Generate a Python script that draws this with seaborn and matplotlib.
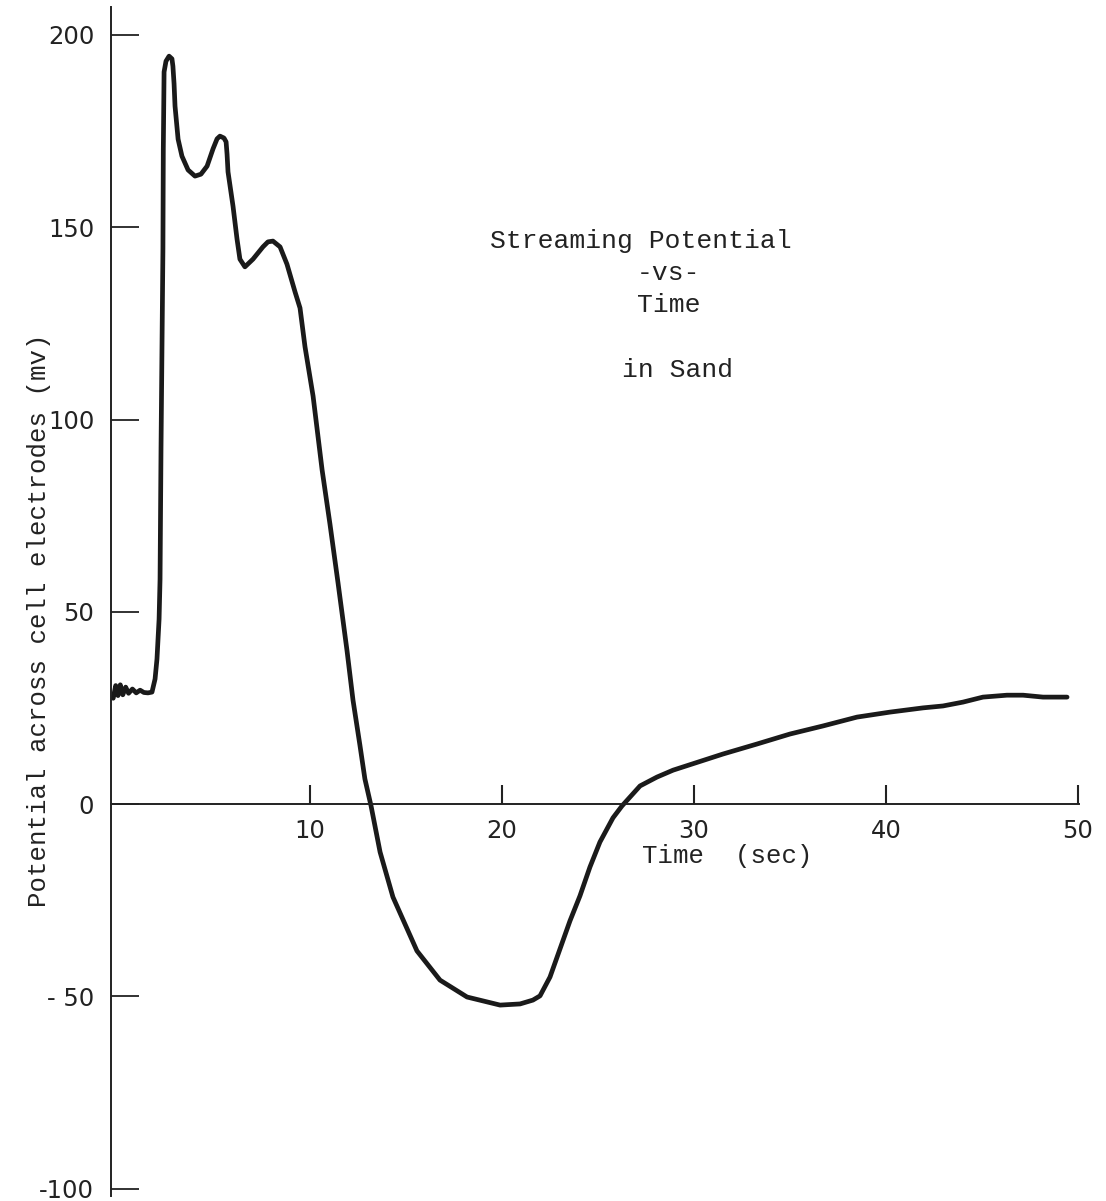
import matplotlib
matplotlib.use("Agg")
import matplotlib.pyplot as plt
import seaborn as sns
import pandas as pd

# Streaming potential trace in sand (time in seconds, potential in mV)
time_sec = [
    -0.25, -0.12, 0.0, 0.12, 0.25, 0.4, 0.55, 0.75, 0.95, 1.15, 1.35, 1.56,
    1.77, 1.93, 2.03, 2.14, 2.19, 2.24, 2.29, 2.34, 2.36, 2.40, 2.50, 2.66,
    2.81, 2.86, 2.92, 2.97, 3.13, 3.33, 3.65, 4.01, 4.32, 4.64, 4.95, 5.16,
    5.31, 5.52, 5.63, 5.68, 5.73, 5.99, 6.20, 6.35, 6.61, 7.03, 7.55, 7.81,
    8.07, 8.44, 8.80, 9.22, 9.48, 9.74, 10.16, 10.63, 11.04, 11.46, 11.93,
    12.24, 12.60, 12.86, 13.18, 13.65, 14.32, 15.57, 16.77, 18.18, 19.90,
    20.94, 21.61, 21.98, 22.50, 23.02, 23.54, 24.06, 24.58, 25.10, 25.78,
    26.25, 27.19, 28.07, 28.91, 30.21, 31.51, 33.28, 35.00, 36.72, 38.49,
    40.21, 41.93, 42.97, 44.01, 45.05, 46.30, 47.14, 48.18, 49.43,
]
potential_mv = [
    27.5, 30.8, 28.2, 31.0, 28.4, 30.4, 28.8, 29.9, 28.9, 29.6, 29.0, 28.9,
    29.1, 32.5, 37.7, 48.1, 58.5, 92.3, 118.3, 144.3, 170.4, 190.4, 193.2, 194.5,
    193.8, 191.9, 187.3, 181.5, 172.9, 168.5, 164.9, 163.3, 163.8, 165.9, 170.4, 173.0,
    173.7, 173.2, 172.2, 169.0, 164.4, 155.5, 146.9, 141.7, 139.7, 141.7, 144.9, 146.2,
    146.4, 144.9, 140.4, 133.2, 129.0, 118.9, 106.1, 86.9, 72.8, 57.5, 39.8,
    27.0, 15.3, 6.5, -0.5, -12.5, -24.2, -38.2, -45.8, -50.2, -52.3,
    -52.0, -51.0, -49.9, -45.0, -37.7, -30.4, -23.9, -16.4, -9.9, -3.6,
    -0.5, 4.7, 7.0, 8.8, 10.9, 13.0, 15.6, 18.2, 20.3, 22.6,
    23.9, 25.0, 25.5, 26.5, 27.8, 28.3, 28.3, 27.8, 27.8,
]

x_ticks = [10, 20, 30, 40, 50]
x_tick_labels = ["10", "20", "30", "40", "50"]
y_ticks = [200, 150, 100, 50, 0, -50, -100]
y_tick_labels = ["200", "150", "100", "50", "0", "- 50", "-100"]

title_lines = ["Streaming Potential", "-vs-", "Time", "in Sand"]

sns.set_style("white")
plt.rcParams["font.family"] = ["DejaVu Sans"]
TYPE_FONT = ["Liberation Mono", "DejaVu Sans Mono"]
INK = "#222222"

W, H = 1106, 1201
fig = plt.figure(figsize=(W / 100, H / 100), dpi=100)

# pixel layout: x px = 118 + 19.2*t ; y px = 804 - 3.845*v
X0, XS = 118.0, 19.2
Y0, YS = 804.0, 3.845
ax_left_px, ax_right_px = 111.0, 1083.0
ax_top_px, ax_bottom_px = 7.0, 1196.0
x_left = (ax_left_px - X0) / XS
x_right = (ax_right_px - X0) / XS
y_top = (Y0 - ax_top_px) / YS
y_bottom = (Y0 - ax_bottom_px) / YS

ax = fig.add_axes([
    ax_left_px / W,
    1 - ax_bottom_px / H,
    (ax_right_px - ax_left_px) / W,
    (ax_bottom_px - ax_top_px) / H,
])

df = pd.DataFrame({"time": time_sec, "potential": potential_mv})
sns.lineplot(data=df, x="time", y="potential", ax=ax, color="#1a1a1a",
             lw=3.4, sort=False, estimator=None,
             solid_joinstyle="round", solid_capstyle="round")

ax.set_xlim(x_left, x_right)
ax.set_ylim(y_bottom, y_top)

for side in ("top", "right"):
    ax.spines[side].set_visible(False)
ax.spines["bottom"].set_position(("data", 0))
ax.spines["bottom"].set_bounds(x_left, 50.05)
for side in ("left", "bottom"):
    ax.spines[side].set_color(INK)
    ax.spines[side].set_linewidth(1.4)

ax.set_xticks(x_ticks)
ax.set_xticklabels(x_tick_labels)
ax.set_yticks(y_ticks)
ax.set_yticklabels(y_tick_labels)
ax.tick_params(axis="x", direction="in", length=14, width=1.5, pad=11,
               labelsize=17.5, colors=INK, bottom=True)
ax.tick_params(axis="y", direction="in", length=20, width=1.3, pad=12,
               labelsize=17.5, colors=INK, left=True)
ax.set_xlabel("")
ax.set_ylabel("")

fig.text(39 / W, 1 - 620 / H, "Potential across cell electrodes (mv)",
         rotation=90, ha="center", va="center", fontsize=18.5,
         family=TYPE_FONT, color=INK)
fig.text(727 / W, 1 - 856 / H, "Time  (sec)", ha="center", va="center",
         fontsize=18.5, family=TYPE_FONT, color=INK)

title_pos = [(490, 241), (637, 273), (637, 305), (622, 370)]
for (px, py), line in zip(title_pos, title_lines):
    fig.text(px / W, 1 - py / H, line, ha="left", va="center",
             fontsize=19, family=TYPE_FONT, color=INK)

fig.savefig("out.png", dpi=100, facecolor="white")
